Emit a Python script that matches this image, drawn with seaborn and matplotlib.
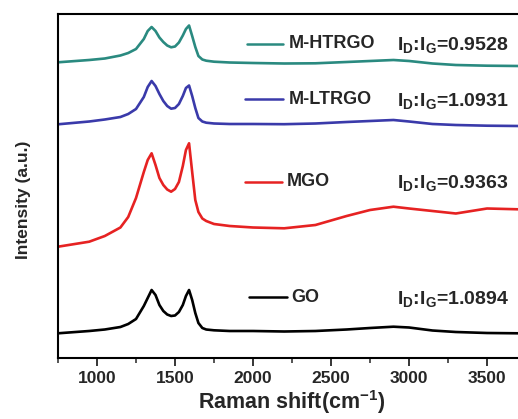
"""
Espectros Raman (GO, MGO, M-LTRGO, M-HTRGO) empilhados com razão ID:IG.
"""
import matplotlib
import pandas as pd
import seaborn as sns

matplotlib.use("Agg")
import matplotlib.pyplot as plt
from matplotlib.lines import Line2D
from matplotlib.ticker import MultipleLocator

# Deslocamento Raman (cm-1) compartilhado pelas quatro curvas
raman_shift = [750, 950, 1050, 1150, 1200, 1250, 1300, 1325, 1350, 1375,
               1400, 1425, 1450, 1475, 1500, 1525, 1550, 1570, 1590, 1610,
               1630, 1650, 1675, 1700, 1750, 1850, 2000, 2200, 2400, 2600,
               2750, 2900, 3000, 3150, 3300, 3500, 3700]

# Intensidades (u.a.) já com o deslocamento vertical de cada curva
go = [24.7, 27, 28.5, 31, 34, 39, 52, 60, 68, 63,
      53, 47, 43.5, 42, 42.5, 46, 53, 62, 68, 58,
      45, 35, 30, 28.5, 27.7, 27, 27, 26.5, 27, 28.5,
      30, 31.3, 30.5, 27.5, 26, 25, 24.7]
mgo = [111.3, 116.3, 122, 130.5, 141, 160, 186, 198, 204.7, 193,
       180, 173, 168.5, 166.3, 169, 176, 192, 208, 214.7, 186,
       158, 146, 139.5, 137, 134, 132, 130.5, 129.7, 133, 142,
       148, 151.3, 149.5, 147, 144.5, 149.5, 148.7]
m_ltrgo = [233.7, 236.5, 238.5, 241, 244, 249, 261, 271, 277, 272,
           264, 257, 252, 249.3, 250, 254, 262, 270, 272.5, 262,
           250, 240, 236.5, 235.3, 234.5, 234, 234, 233.8, 234.5, 236,
           237, 238, 236.5, 234, 233, 232.3, 232]
m_htrgo = [295.7, 298, 299.5, 302.5, 305, 309, 319, 327, 331, 327,
           320.5, 316, 312.5, 310.7, 311.5, 315.5, 322.5, 329, 332.5, 322,
           311, 302, 298.5, 297.3, 296.3, 295.5, 295, 294.5, 294.7, 296,
           297, 298, 297, 294.5, 293, 292.3, 292]

samples = ["M-HTRGO", "M-LTRGO", "MGO", "GO"]
ratios = ["0.9528", "1.0931", "0.9363", "1.0894"]
colors = ["#2a8a80", "#3a3aaa", "#e62222", "#000000"]

# posição das legendas (fração dos eixos): y, x0 do traço, x1 do traço, x do rótulo
legend_layout = [
    (0.914, 0.407, 0.485, 0.498),
    (0.752, 0.403, 0.485, 0.498),
    (0.512, 0.403, 0.483, 0.494),
    (0.177, 0.412, 0.494, 0.502),
]


def configure_plot_style() -> None:
    sns.set_style("ticks")
    plt.rcParams.update({
        "font.family": ["Liberation Sans", "DejaVu Sans"],
        "font.weight": "bold",
        "mathtext.fontset": "custom",
        "mathtext.rm": "Liberation Sans:bold",
        "mathtext.bf": "Liberation Sans:bold",
        "mathtext.it": "Liberation Sans:bold",
        "axes.linewidth": 1.5,
        "axes.edgecolor": "black",
    })


def main() -> None:
    configure_plot_style()

    df = pd.DataFrame({
        "shift": raman_shift * 4,
        "intensity": m_htrgo + m_ltrgo + mgo + go,
        "sample": [s for s in samples for _ in raman_shift],
    })

    fig = plt.figure(figsize=(5.18, 4.19), dpi=100)
    ax = fig.add_axes([58 / 518, 61 / 419, 464 / 518, 344 / 419])

    sns.lineplot(data=df, x="shift", y="intensity", hue="sample",
                 hue_order=samples, palette=colors, linewidth=1.9,
                 legend=False, ax=ax, estimator=None, sort=False)
    for line in ax.get_lines():
        line.set_solid_joinstyle("round")

    ax.set_xlim(750, 3724)
    ax.set_ylim(0, 344)
    ax.xaxis.set_major_locator(MultipleLocator(500))
    ax.xaxis.set_minor_locator(MultipleLocator(250))
    ax.set_yticks([])
    ax.tick_params(axis="x", which="major", direction="out", length=6,
                   width=1.3, labelsize=12.5, pad=3)
    ax.tick_params(axis="x", which="minor", direction="out", length=3.5,
                   width=1.1)
    for lab in ax.get_xticklabels():
        lab.set_fontweight("bold")

    ax.set_xlabel(r"Raman shift(cm$^{\mathbf{-1}}$)", fontsize=15.5,
                  fontweight="bold")
    ax.xaxis.set_label_coords(0.504, -0.128)
    ax.xaxis.label.set_va("center")
    ax.set_ylabel("Intensity (a.u.)", fontsize=12.5, fontweight="bold")
    ax.yaxis.set_label_coords(-0.075, 0.46)
    ax.yaxis.label.set_va("center")

    for name, ratio, color, (ly, x0, x1, lx) in zip(samples, ratios, colors,
                                                     legend_layout):
        ax.add_line(Line2D([x0, x1], [ly, ly], transform=ax.transAxes,
                           color=color, linewidth=1.8))
        ax.text(lx, ly, name, transform=ax.transAxes, fontsize=13,
                fontweight="bold", va="center", ha="left")
        ax.text(0.731, ly - 0.019,
                r"I$_{\mathbf{D}}$:I$_{\mathbf{G}}$=" + ratio,
                transform=ax.transAxes, fontsize=14, fontweight="bold",
                va="baseline", ha="left")

    fig.savefig("out.png", dpi=100)
    plt.close(fig)


if __name__ == "__main__":
    main()
